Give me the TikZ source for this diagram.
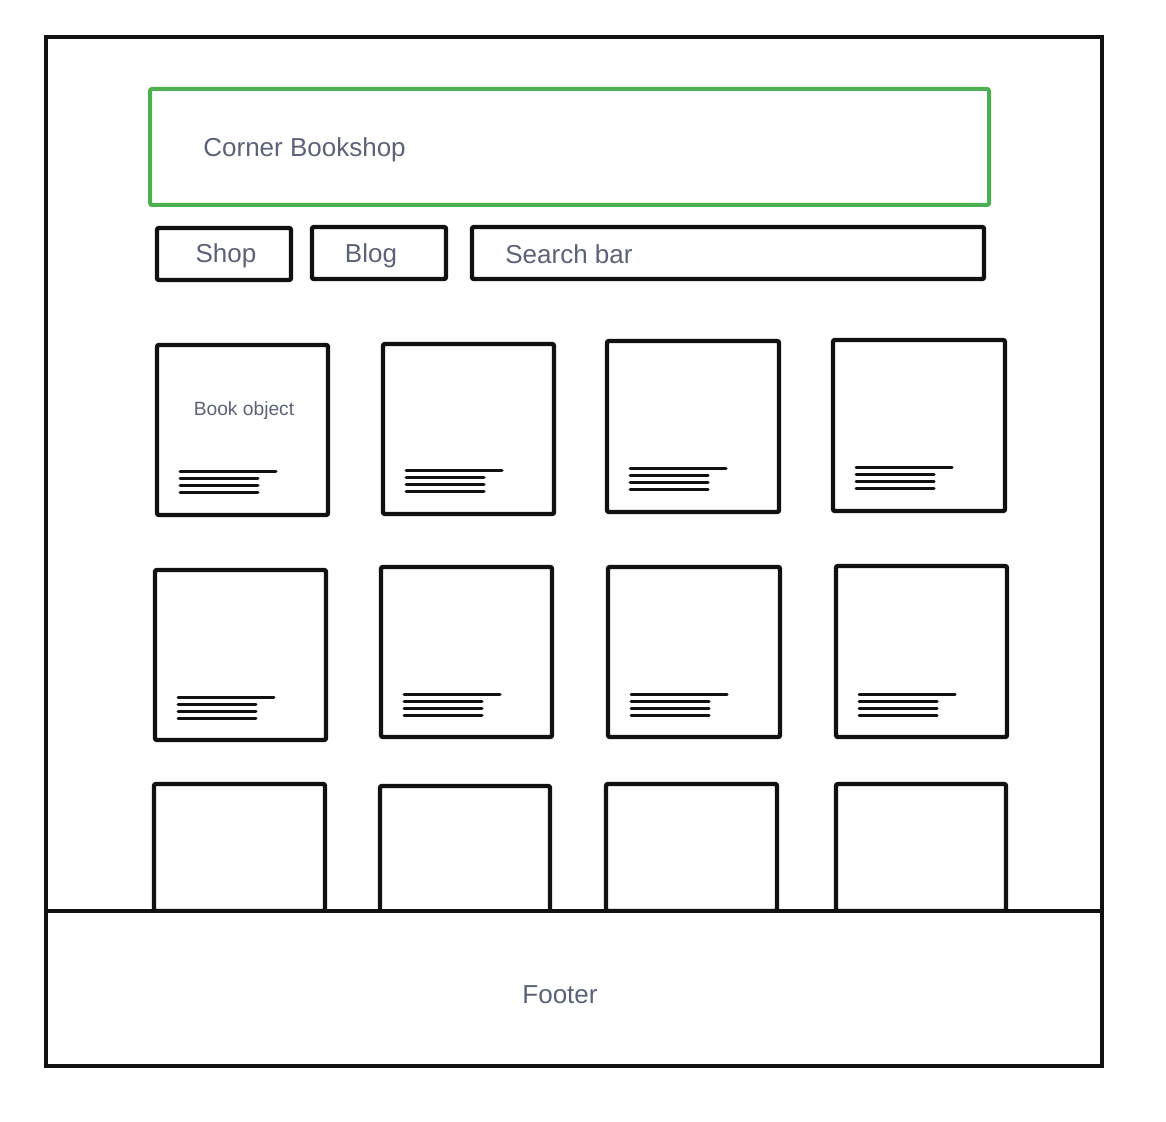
\documentclass[tikz,border=0pt]{standalone}
\usepackage{fontspec}
\setmainfont{Liberation Sans}
\usetikzlibrary{calc}
\definecolor{ink}{RGB}{17,17,17}
\definecolor{labelgray}{RGB}{92,99,120}
\definecolor{headgreen}{RGB}{76,175,80}
\begin{document}
\begin{tikzpicture}[x=0.5pt,y=-0.5pt,
  box/.style={draw=ink, line width=2.2pt, rounded corners=1pt, inner sep=0pt, outer sep=0pt, fill=white},
  frame/.style={draw=ink, line width=2pt, inner sep=0pt, outer sep=0pt},
  header/.style={draw=headgreen, line width=2pt, rounded corners=1pt, inner sep=0pt, outer sep=0pt},
  big/.style={text=labelgray, font=\fontsize{13pt}{15pt}\selectfont, inner sep=0pt, anchor=base},
  small/.style={text=labelgray, font=\fontsize{9.6pt}{11pt}\selectfont, inner sep=0pt, anchor=base},
  txtline/.style={draw=ink, line width=1.5pt, line cap=round}
]
\useasboundingbox (0,0) rectangle (1166,1122);

% page frame
\node[frame, minimum width=528pt, minimum height=514.5pt] (page) at (574,551.5) {};

% header
\node[header, minimum width=419.5pt, minimum height=58pt] (hdr) at (569.5,147) {};
\node[big, anchor=base west] (hdrtext) at (203,157) {Corner Bookshop};

% navigation
\node[box, minimum width=67pt, minimum height=26pt] (shop) at (224,254) {};
\node[big] (shoptext) at (226,263) {Shop};
\node[box, minimum width=67pt, minimum height=26pt] (blog) at (379,253) {};
\node[big] (blogtext) at (371,263) {Blog};
\node[box, minimum width=256pt, minimum height=26pt] (search) at (728,253) {};
\node[big, anchor=base west] (searchtext) at (505,264) {Search bar};

% book cards, rows one and two
\foreach \n/\cx/\cy/\w/\h in {
  1/242.5/430/171/170, 2/468.5/429/171/170, 3/693/426.5/172/171, 4/919/425.5/172/171,
  5/240.5/655/171/170, 6/466.5/652/171/170, 7/694/652/172/170, 8/921.5/651.5/171/171}{
  \node[box, minimum width=\w*0.5pt, minimum height=\h*0.5pt] (card\n) at (\cx,\cy) {};
  \draw[txtline] ($(card\n.south west)+(23,-43)$) -- ++(96,0);
  \foreach \dy in {-36,-29,-22}
    \draw[txtline] ($(card\n.south west)+(23,\dy)$) -- ++(78,0);
}
\node[small] (booklabel) at (244,416) {Book object};

% third row, cut by the footer
\foreach \n/\cx/\cy/\w/\h in {
  9/239.5/847.5/171/127, 10/465/849/170/126, 11/691.5/847.5/171/127, 12/921/847.5/170/127}{
  \node[box, minimum width=\w*0.5pt, minimum height=\h*0.5pt] (card\n) at (\cx,\cy) {};
}

% footer
\node[frame, fill=white, minimum width=528pt, minimum height=77.5pt] (footer) at (574,988.5) {};
\node[big] (footertext) at (560,1003) {Footer};
\end{tikzpicture}
\end{document}
